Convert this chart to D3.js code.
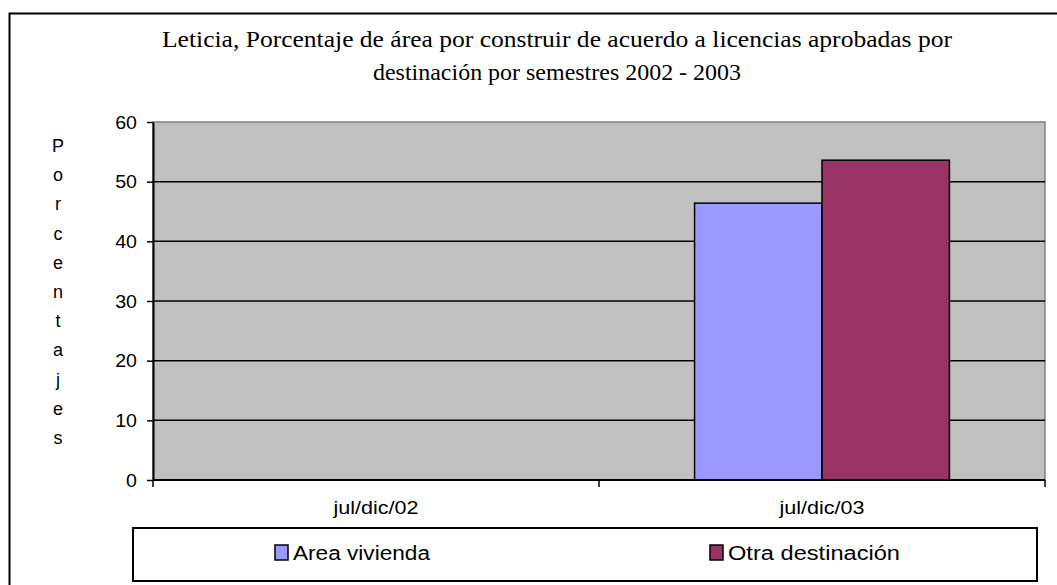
<!DOCTYPE html>
<html><head><meta charset="utf-8">
<script src="https://cdn.jsdelivr.net/npm/d3@7"></script>
<style>body{margin:0;background:#fff;}svg{display:block;}</style>
</head><body>
<svg id="c" width="1057" height="585"></svg>
<script>
const categories = ["jul/dic/02", "jul/dic/03"];
const seriesNames = ["Area vivienda", "Otra destinación"];
const areaVivienda = [null, 46.4];
const otraDestinacion = [null, 53.6];
const yTicks = [0, 10, 20, 30, 40, 50, 60];
const titleLines = ["Leticia, Porcentaje de área por construir de acuerdo a licencias aprobadas por", "destinación por semestres 2002 - 2003"];
const yTitle = "Porcentajes";
const colors = ["#9999FF", "#993366"];

function stretch(k) {
  return sel => sel.each(function () {
    const w = this.getComputedTextLength();
    d3.select(this).attr("textLength", w * k).attr("lengthAdjust", "spacingAndGlyphs");
  });
}
function fixLen(lens) {
  return sel => sel.attr("textLength", (d, i) => lens[i]).attr("lengthAdjust", "spacingAndGlyphs");
}

const svg = d3.select("#c");
const m = {l: 153, r: 1045, t: 122, b: 480};
const SANS = "Liberation Sans, Arial, sans-serif";

// outer border
svg.append("rect").attr("x", 9.5).attr("y", 13.5).attr("width", 1060).attr("height", 580)
  .attr("fill", "#fff").attr("stroke", "#000").attr("stroke-width", 2);

// title
svg.append("g").selectAll("text").data(titleLines).join("text")
  .attr("x", 557).attr("y", (d, i) => 47 + i * 33)
  .attr("text-anchor", "middle")
  .attr("font-family", "Liberation Serif, Times New Roman, serif")
  .attr("font-size", 24)
  .attr("fill", "#000")
  .text(d => d)
  .call(fixLen([790, 368]));

const x = d3.scaleBand().domain(categories).range([m.l, m.r]).padding(0);
const y = d3.scaleLinear().domain([0, 60]).range([m.b, m.t]);
const xInner = d3.scaleBand().domain(seriesNames).range([0, x.bandwidth()]).paddingInner(0).paddingOuter(0.75);

// plot area
svg.append("rect").attr("x", m.l).attr("y", m.t).attr("width", m.r - m.l).attr("height", m.b - m.t)
  .attr("fill", "#C0C0C0").attr("stroke", "#808080").attr("stroke-width", 1.5);

// gridlines
svg.append("g").selectAll("line").data(yTicks.filter(d => d > 0 && d < 60)).join("line")
  .attr("x1", m.l).attr("x2", m.r).attr("y1", d => y(d)).attr("y2", d => y(d))
  .attr("stroke", "#000").attr("stroke-width", 1.5);

// bars
const rows = categories.map((c, i) => ({c, vals: [areaVivienda[i], otraDestinacion[i]]}));
const g = svg.append("g");
rows.forEach(r => {
  r.vals.forEach((v, j) => {
    if (v == null) return;
    g.append("rect")
      .attr("x", x(r.c) + xInner(seriesNames[j]))
      .attr("y", y(v))
      .attr("width", xInner.bandwidth())
      .attr("height", y(0) - y(v))
      .attr("fill", colors[j]).attr("stroke", "#000").attr("stroke-width", 1.5);
  });
});

// y axis
const yAxis = d3.axisLeft(y).tickValues(yTicks).tickSize(6).tickPadding(10).tickSizeOuter(0);
const ya = svg.append("g").attr("transform", `translate(${m.l},0)`).call(yAxis);
ya.select(".domain").attr("stroke", "#000").attr("stroke-width", 2);
ya.selectAll(".tick line").attr("stroke", "#000").attr("stroke-width", 1.5);
ya.selectAll("text").attr("font-family", SANS).attr("font-size", 17.5).attr("fill", "#000").attr("dy", "0.35em").call(stretch(1.12));

// x axis
const xa = svg.append("g").attr("transform", `translate(0,${m.b})`);
xa.append("line").attr("x1", m.l).attr("x2", m.r).attr("stroke", "#000").attr("stroke-width", 2);
const bounds = [m.l, ...categories.map(c => x(c) + x.bandwidth())];
xa.selectAll(".tk").data(bounds).join("line").attr("class", "tk")
  .attr("x1", d => d).attr("x2", d => d).attr("y1", 0).attr("y2", 7)
  .attr("stroke", "#000").attr("stroke-width", 1.5);
xa.selectAll("text").data(categories).join("text")
  .attr("x", d => x(d) + x.bandwidth() / 2).attr("y", 34)
  .attr("text-anchor", "middle")
  .attr("font-family", SANS).attr("font-size", 18).attr("fill", "#000")
  .text(d => d)
  .call(fixLen([85, 85]));

// y title stacked letters
svg.append("g").selectAll("text").data(yTitle.split("")).join("text")
  .attr("x", 58).attr("y", (d, i) => 152 + i * 29.2)
  .attr("text-anchor", "middle")
  .attr("font-family", SANS).attr("font-size", 18).attr("fill", "#000")
  .text(d => d);

// legend
svg.append("rect").attr("x", 133).attr("y", 528).attr("width", 904).attr("height", 53)
  .attr("fill", "#fff").attr("stroke", "#000").attr("stroke-width", 2);
const legX = [275, 710];
const legLen = [137, 172];
seriesNames.forEach((s, j) => {
  svg.append("rect").attr("x", legX[j]).attr("y", 545).attr("width", 13).attr("height", 15)
    .attr("fill", colors[j]).attr("stroke", "#000").attr("stroke-width", 1.5);
  svg.append("text").attr("x", legX[j] + 18).attr("y", 560)
    .attr("font-family", SANS).attr("font-size", 19.5).attr("fill", "#000")
    .text(s)
    .attr("textLength", legLen[j]).attr("lengthAdjust", "spacingAndGlyphs");
});
</script>
</body></html>
